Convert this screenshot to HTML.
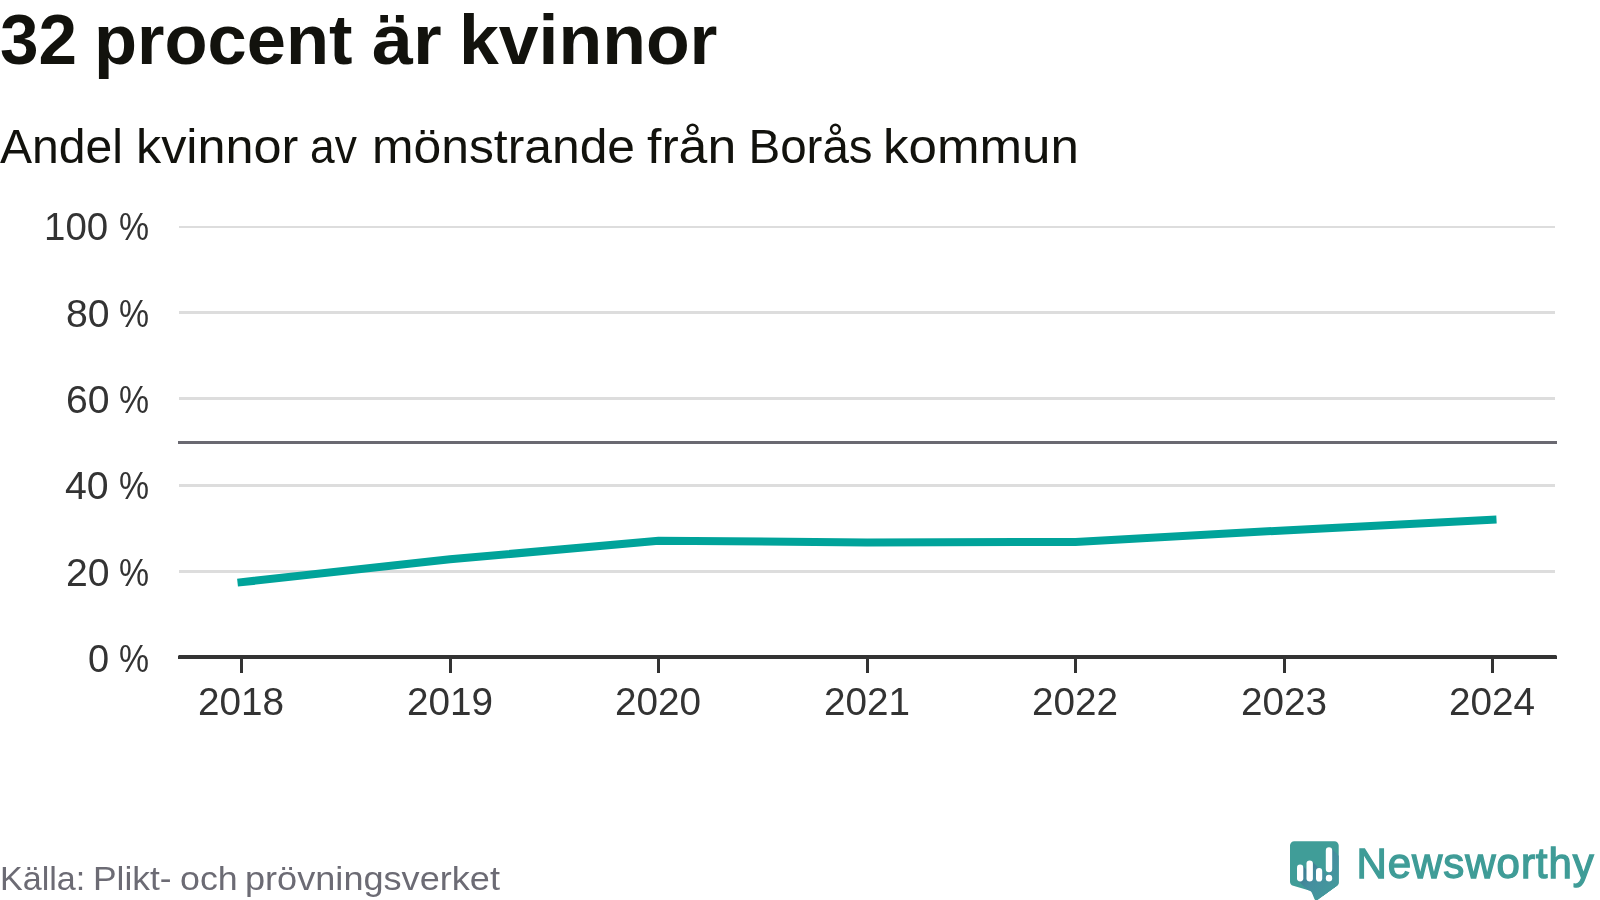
<!DOCTYPE html>
<html lang="sv">
<head>
<meta charset="utf-8">
<title>32 procent är kvinnor</title>
<style>
  html, body { margin: 0; padding: 0; background: #ffffff; }
  body {
    width: 1600px; height: 900px; position: relative; overflow: hidden;
    font-family: "Liberation Sans", sans-serif;
    will-change: transform;
  }
  .chart { position: absolute; left: 0; top: 0; width: 1600px; height: 900px; }
  h1.title {
    position: absolute; left: 0; top: 4.74px; margin: 0;
    font-size: 70px; line-height: 70px; font-weight: 700; color: #12120d;
    white-space: nowrap; transform-origin: 0 0;
  }
  .w { position: absolute; top: 0; display: block; white-space: pre; transform-origin: 0 0; }
  p.subtitle {
    position: absolute; left: 0; top: 122.54px; margin: 0;
    font-size: 47.5px; line-height: 47.5px; font-weight: 400; color: #12120d;
    white-space: nowrap; transform-origin: 0 0;
  }
  p.source {
    position: absolute; left: 0; top: 861.89px; margin: 0;
    font-size: 33.8px; line-height: 33.8px; font-weight: 400; color: #6c6b74;
    white-space: nowrap; transform-origin: 0 0;
  }
  svg text { font-family: "Liberation Sans", sans-serif; }
  .lab {
    position: absolute; left: 0; margin: 0; width: 0; height: 38.4px;
    font-size: 38.4px; line-height: 38.4px; font-weight: 400; color: #333333; white-space: nowrap;
  }
  .brand { font-size: 42px; letter-spacing: 0.95px; fill: #3f9c97; stroke: #3f9c97; stroke-width: 1.3px; }
</style>
</head>
<body>
<h1 class="title"><span class="w" style="left:0.02px;transform:scaleX(0.9897)">32</span> <span class="w" style="left:93.72px;transform:scaleX(1.007)">procent</span> <span class="w" style="left:371.65px;transform:scaleX(1.0516)">är</span> <span class="w" style="left:458.64px;transform:scaleX(1.0223)">kvinnor</span></h1>
<p class="subtitle"><span class="w" style="left:0.0px;transform:scaleX(1.0127)">Andel</span> <span class="w" style="left:136.32px;transform:scaleX(1.0604)">kvinnor</span> <span class="w" style="left:310.14px;transform:scaleX(0.9323)">av</span> <span class="w" style="left:371.85px;transform:scaleX(1.0488)">mönstrande</span> <span class="w" style="left:646.91px;transform:scaleX(1.0897)">från</span> <span class="w" style="left:748.5px;transform:scaleX(1.0)">Borås</span> <span class="w" style="left:882.77px;transform:scaleX(1.0753)">kommun</span></p>

<svg class="chart" width="1600" height="900" viewBox="0 0 1600 900">
  <!-- gridlines -->
  <g fill="#dddddd" shape-rendering="crispEdges">
    <rect x="179" y="226" width="1376" height="2"/>
    <rect x="179" y="311" width="1376" height="3"/>
    <rect x="179" y="397" width="1376" height="3"/>
    <rect x="179" y="484" width="1376" height="3"/>
    <rect x="179" y="570" width="1376" height="3"/>
  </g>
  <!-- 50 % reference line -->
  <rect x="178" y="441" width="1379" height="3" fill="#6a6971" shape-rendering="crispEdges"/>
  <!-- data line -->
  <polyline fill="none" stroke="#00a39a" stroke-width="8" stroke-linecap="square" stroke-linejoin="miter"
    points="241.5,582.2 450,559.3 658.5,540.7 867,542.5 1075.5,541.9 1284,530.4 1492.5,519.6"/>
  <!-- x axis -->
  <polygon fill="#333333" points="178,656 179,655 1556,655 1557,656 1557,659 178,659"/>
  <g fill="#333333" shape-rendering="crispEdges">
    <rect x="240" y="659" width="3" height="13.5"/>
    <rect x="448.5" y="659" width="3" height="13.5"/>
    <rect x="657" y="659" width="3" height="13.5"/>
    <rect x="865.5" y="659" width="3" height="13.5"/>
    <rect x="1074" y="659" width="3" height="13.5"/>
    <rect x="1282.5" y="659" width="3" height="13.5"/>
    <rect x="1491" y="659" width="3" height="13.5"/>
  </g>

  <!-- Newsworthy logo -->
  <g>
    <defs>
      <clipPath id="nwclip"><path d="M1294.3 841.3 H1334.4 A4.3 4.3 0 0 1 1338.7 845.6 V882.4 Q1338.7 884.3 1337.2 885.5 L1318 899.6 Q1315.2 901.6 1314 898 L1312.4 893.4 Q1311.6 891.2 1309.4 890.5 L1293.2 885.7 Q1290 884.7 1290 881.4 V845.6 A4.3 4.3 0 0 1 1294.3 841.3 Z"/></clipPath>
      <linearGradient id="nwsh" gradientUnits="userSpaceOnUse" x1="1299" y1="864" x2="1337" y2="896"><stop offset="0" stop-color="#3a748c"/><stop offset="0.45" stop-color="#458f9f"/><stop offset="1" stop-color="#439c9b"/></linearGradient>
    </defs>
    <path fill="#409d98" d="M1294.3 841.3 H1334.4 A4.3 4.3 0 0 1 1338.7 845.6 V882.4 Q1338.7 884.3 1337.2 885.5 L1318 899.6 Q1315.2 901.6 1314 898 L1312.4 893.4 Q1311.6 891.2 1309.4 890.5 L1293.2 885.7 Q1290 884.7 1290 881.4 V845.6 A4.3 4.3 0 0 1 1294.3 841.3 Z"/>
    <g clip-path="url(#nwclip)">
      <polygon fill="url(#nwsh)" points="1302.38,865.42 1332.38,895.42 1327.92,910.58 1297.92,880.58"/>
      <polygon fill="url(#nwsh)" points="1311.96,861.34 1341.96,891.34 1337.44,910.56 1307.44,880.56"/>
      <polygon fill="url(#nwsh)" points="1321.29,868.91 1351.29,898.91 1346.91,910.59 1316.91,880.59"/>
      <polygon fill="url(#nwsh)" points="1331.26,848.24 1361.26,878.24 1356.74,910.46 1326.74,880.46"/>
    </g>
    <g fill="#ffffff">
      <rect x="1297" y="864.5" width="6.3" height="17" rx="3.15"/>
      <rect x="1306.5" y="860.4" width="6.4" height="21.1" rx="3.2"/>
      <rect x="1316" y="868" width="6.2" height="13.5" rx="3.1"/>
      <rect x="1325.8" y="847.3" width="6.4" height="24.9" rx="3.2"/>
      <rect x="1325.8" y="874.8" width="6.4" height="6.6" rx="3.2"/>
    </g>
    <text class="brand" x="1356.5" y="878">Newsworthy</text>
  </g>
</svg>

<div class="yaxis">
  <div class="lab" style="top:208.09px"><span class="w" style="left:44.09px;transform:scaleX(1.0017)">100</span> <span class="w" style="left:119.22px;transform:scaleX(0.8797)">%</span></div>
  <div class="lab" style="top:295.19px"><span class="w" style="left:65.56px;transform:scaleX(1.0205)">80</span> <span class="w" style="left:119.22px;transform:scaleX(0.8797)">%</span></div>
  <div class="lab" style="top:380.89px"><span class="w" style="left:65.56px;transform:scaleX(1.0205)">60</span> <span class="w" style="left:119.22px;transform:scaleX(0.8797)">%</span></div>
  <div class="lab" style="top:467.29px"><span class="w" style="left:65.48px;transform:scaleX(1.0225)">40</span> <span class="w" style="left:119.22px;transform:scaleX(0.8797)">%</span></div>
  <div class="lab" style="top:553.69px"><span class="w" style="left:65.56px;transform:scaleX(1.0205)">20</span> <span class="w" style="left:119.22px;transform:scaleX(0.8797)">%</span></div>
  <div class="lab" style="top:640.09px"><span class="w" style="left:87.61px;transform:scaleX(0.9895)">0</span> <span class="w" style="left:119.22px;transform:scaleX(0.8797)">%</span></div>
</div>
<div class="xaxis">
  <div class="lab" style="top:683.29px"><span class="w" style="left:198.0px;transform:scaleX(1.008)">2018</span></div>
  <div class="lab" style="top:683.29px"><span class="w" style="left:406.5px;transform:scaleX(1.008)">2019</span></div>
  <div class="lab" style="top:683.29px"><span class="w" style="left:615.0px;transform:scaleX(1.008)">2020</span></div>
  <div class="lab" style="top:683.29px"><span class="w" style="left:823.5px;transform:scaleX(1.008)">2021</span></div>
  <div class="lab" style="top:683.29px"><span class="w" style="left:1032.0px;transform:scaleX(1.008)">2022</span></div>
  <div class="lab" style="top:683.29px"><span class="w" style="left:1240.5px;transform:scaleX(1.008)">2023</span></div>
  <div class="lab" style="top:683.29px"><span class="w" style="left:1449.0px;transform:scaleX(1.008)">2024</span></div>
</div>
<p class="source"><span class="w" style="left:-0.23px;transform:scaleX(1.0089)">Källa:</span> <span class="w" style="left:92.61px;transform:scaleX(1.0458)">Plikt-</span> <span class="w" style="left:179.94px;transform:scaleX(1.0588)">och</span> <span class="w" style="left:245.36px;transform:scaleX(1.0688)">prövningsverket</span></p>
</body>
</html>
